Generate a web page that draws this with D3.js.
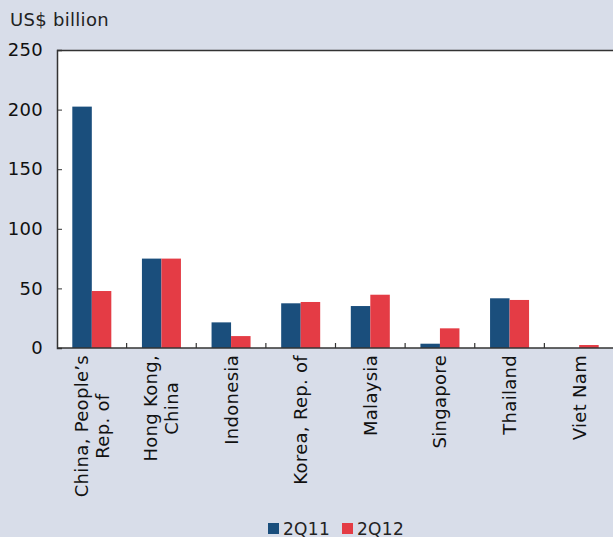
<!DOCTYPE html>
<html>
<head>
<meta charset="utf-8">
<script src="https://cdn.jsdelivr.net/npm/d3@7"></script>
<style>
  html, body { margin: 0; padding: 0; background: #d8dde9; }
  svg { display: block; font-family: "DejaVu Sans", Verdana, sans-serif; }
  svg text { letter-spacing: 0.3px; }
</style>
</head>
<body>
<svg id="chart" width="613" height="537"></svg>
<script>
// Economies (each label split into display lines)
const categories = [
  ["China, People\u2019s", "Rep. of"],
  ["Hong Kong,", "China"],
  ["Indonesia"],
  ["Korea, Rep. of"],
  ["Malaysia"],
  ["Singapore"],
  ["Thailand"],
  ["Viet Nam"]
];
const seriesNames = ["2Q11", "2Q12"];
const values2Q11 = [202.5, 75, 21.5, 37.5, 35.2, 3.6, 41.7, 0];
const values2Q12 = [47.8, 75, 10, 38.6, 44.7, 16.5, 40.3, 2.5];
const yTicks = [0, 50, 100, 150, 200, 250];
const colors = ["#1a4e7c", "#e43c45"];

const W = 613, H = 537;
const margin = { left: 57, top: 50, right: -1, bottom: 189 };
const svg = d3.select("#chart");

const x0 = d3.scaleBand()
  .domain(d3.range(categories.length))
  .range([margin.left, W - margin.right])
  .paddingInner(0).paddingOuter(0);
const x1 = d3.scaleBand()
  .domain(seriesNames)
  .range([0, x0.bandwidth()])
  .paddingInner(0).paddingOuter(0.785);
const y = d3.scaleLinear().domain([0, 250]).range([H - margin.bottom, margin.top]);

// plot area
svg.append("rect")
  .attr("x", margin.left).attr("y", margin.top)
  .attr("width", W - margin.right - margin.left)
  .attr("height", y(0) - margin.top)
  .attr("fill", "#ffffff");

// bars
const rows = categories.map((c, i) => ({ i, vals: [values2Q11[i], values2Q12[i]] }));
const g = svg.append("g");
rows.forEach(r => {
  r.vals.forEach((v, s) => {
    if (v <= 0) return;
    g.append("rect")
      .attr("x", x0(r.i) + x1(seriesNames[s]))
      .attr("y", y(v))
      .attr("width", x1.bandwidth())
      .attr("height", y(0) - y(v))
      .attr("fill", colors[s]);
  });
});

// top frame line
svg.append("line")
  .attr("x1", margin.left).attr("x2", W)
  .attr("y1", margin.top + 0.5).attr("y2", margin.top + 0.5)
  .attr("stroke", "#333").attr("stroke-width", 1.5);

// y axis
const yAxis = d3.axisLeft(y).tickValues(yTicks).tickSize(-5).tickPadding(14);
const ya = svg.append("g").attr("transform", `translate(${margin.left},0)`).call(yAxis);
ya.select(".domain").attr("stroke", "#333").attr("stroke-width", 1.5);
ya.selectAll(".tick line").attr("stroke", "#333");
ya.selectAll(".tick text").attr("font-size", 18).attr("fill", "#111")
  .attr("font-family", "DejaVu Sans, Verdana, sans-serif");

// x axis baseline and boundary ticks
const xa = svg.append("g");
xa.append("line")
  .attr("x1", margin.left).attr("x2", W)
  .attr("y1", y(0)).attr("y2", y(0))
  .attr("stroke", "#333").attr("stroke-width", 1.5);
d3.range(1, categories.length).forEach(i => {
  xa.append("line")
    .attr("x1", x0(i)).attr("x2", x0(i))
    .attr("y1", y(0)).attr("y2", y(0) - 5)
    .attr("stroke", "#333").attr("stroke-width", 1.2);
});

// category labels, rotated, lines centred on each other, block anchored below axis
const labelTop = y(0) + 7;
const lineGap = 21;
categories.forEach((lines, i) => {
  const cx = x0(i) + x0.bandwidth() / 2;
  const grp = svg.append("g");
  const texts = lines.map(t => grp.append("text")
    .attr("font-size", 18).attr("fill", "#111")
    .attr("text-anchor", "middle").text(t));
  const maxLen = d3.max(texts, t => t.node().getComputedTextLength());
  const cy = labelTop + maxLen / 2;
  const n = lines.length;
  texts.forEach((t, k) => {
    const lx = cx + (k - (n - 1) / 2) * lineGap + 6.5;
    t.attr("transform", `translate(${lx},${cy}) rotate(-90)`);
  });
});

// unit label
svg.append("text")
  .attr("x", 10).attr("y", 26)
  .attr("font-size", 18).attr("fill", "#222")
  .text("US$ billion");

// legend
const legend = svg.append("g").attr("transform", "translate(268,523)");
const legX = [0, 74];
seriesNames.forEach((s, k) => {
  legend.append("rect").attr("x", legX[k]).attr("y", 0)
    .attr("width", 11).attr("height", 11).attr("fill", colors[k]);
  legend.append("text").attr("x", legX[k] + 15).attr("y", 11.5)
    .attr("font-size", 17).attr("fill", "#222").text(s);
});
</script>
</body>
</html>
